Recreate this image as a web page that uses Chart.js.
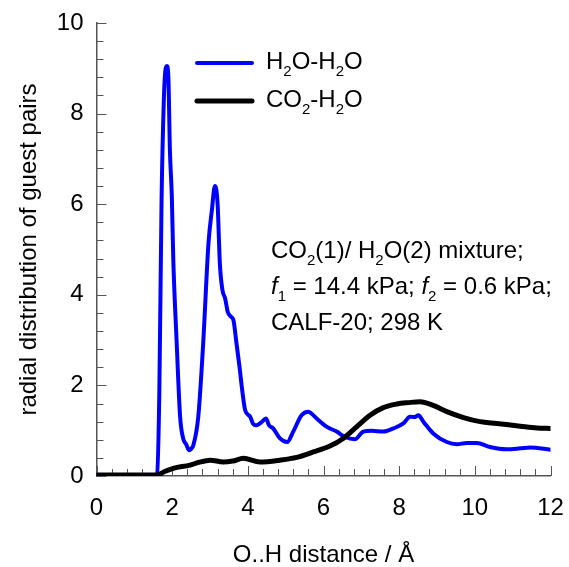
<!DOCTYPE html>
<html>
<head>
<meta charset="utf-8">
<script src="https://cdn.jsdelivr.net/npm/chart.js@4.4.0/dist/chart.umd.min.js"></script>
<style>
  html, body { margin: 0; padding: 0; background: #fff; }
  #wrap { width: 569px; height: 567px; }
</style>
</head>
<body>
<div id="wrap"><canvas id="c" width="569" height="567"></canvas></div>
<script>
const FONT = "'Liberation Sans', Arial, Helvetica, sans-serif";

// Radial distribution functions (O..H distance in Å)
const h2oX = [0, 1.5, 1.6, 1.66, 1.72, 1.78, 1.82, 1.86, 1.9, 1.94, 1.99, 2.03, 2.12, 2.21, 2.29, 2.37, 2.45, 2.5, 2.56, 2.69,
  2.82, 2.96, 3.05, 3.13, 3.2, 3.26, 3.33, 3.4, 3.47, 3.55, 3.62, 3.7, 3.79, 3.84, 3.93, 4.06, 4.14, 4.22, 4.35, 4.48,
  4.56, 4.67, 4.85, 5.04, 5.2, 5.42, 5.6, 5.68, 5.82, 6.08, 6.35, 6.57, 6.83, 7.05, 7.27, 7.58, 7.85, 8.11, 8.29, 8.4,
  8.51, 8.64, 8.9, 9.26, 9.52, 9.79, 10.05, 10.4, 10.84, 11.2, 11.46, 12];
const h2oY = [0, 0, 0.05, 1.8, 6.1, 8.3, 8.95, 9.05, 8.8, 7.2, 6.2, 4.77, 2.93, 1.31, 0.83, 0.7, 0.57, 0.6, 0.68, 1.31,
  2.93, 5.14, 5.87, 6.4, 6.02, 4.7, 4.1, 3.92, 3.62, 3.52, 3.44, 2.93, 2.34, 1.97, 1.45, 1.31, 1.15, 1.12, 1.18, 1.27,
  1.12, 1.05, 0.83, 0.75, 0.98, 1.34, 1.42, 1.38, 1.27, 1.09, 0.98, 0.86, 0.81, 0.98, 1.0, 0.98, 1.05, 1.16, 1.31, 1.3,
  1.34, 1.2, 0.94, 0.75, 0.7, 0.73, 0.73, 0.64, 0.59, 0.61, 0.63, 0.58];

const co2X = [0, 1.59, 1.8, 2.03, 2.47, 2.7, 3.0, 3.35, 3.6, 3.88, 4.32, 4.85, 5.29, 5.73, 6.17, 6.52, 6.88, 7.23, 7.58, 7.94,
  8.24, 8.55, 8.9, 9.26, 9.7, 10.14, 10.58, 11.2, 11.64, 12];
const co2Y = [0.02, 0.02, 0.1, 0.17, 0.24, 0.3, 0.35, 0.31, 0.33, 0.39, 0.31, 0.35, 0.41, 0.53, 0.66, 0.83, 1.09, 1.34, 1.51, 1.59,
  1.62, 1.64, 1.56, 1.42, 1.29, 1.2, 1.16, 1.1, 1.06, 1.05];

const xMajorTicks = [0, 2, 4, 6, 8, 10, 12];
const yMajorTicks = [0, 2, 4, 6, 8, 10];

const toPoints = (xs, ys) => xs.map((x, i) => ({ x: x, y: ys[i] }));
const isMajor = (v, list) => list.some(m => Math.abs(m - v) < 1e-6);

// Rich text: segments of plain, subscript and italic text
function drawRich(ctx, x, y, segs, size) {
  let cx = x;
  ctx.textBaseline = 'alphabetic';
  ctx.textAlign = 'left';
  ctx.fillStyle = '#000';
  for (const s of segs) {
    const fs = s.sub ? Math.round(size * 0.64) : size;
    ctx.font = (s.it ? 'italic ' : '') + fs + 'px ' + FONT;
    ctx.fillText(s.t, cx, s.sub ? y + 7 : y);
    cx += ctx.measureText(s.t).width;
  }
}

const legendItems = [
  { color: '#0000ff', width: 4, y: 63, segs: [{ t: 'H' }, { t: '2', sub: true }, { t: 'O-H' }, { t: '2', sub: true }, { t: 'O' }] },
  { color: '#000000', width: 5, y: 101, segs: [{ t: 'CO' }, { t: '2', sub: true }, { t: '-H' }, { t: '2', sub: true }, { t: 'O' }] }
];

const noteLines = [
  [{ t: 'CO' }, { t: '2', sub: true }, { t: '(1)/ H' }, { t: '2', sub: true }, { t: 'O(2) mixture;' }],
  [{ t: 'f', it: true }, { t: '1', sub: true }, { t: ' = 14.4 kPa; ' }, { t: 'f', it: true }, { t: '2', sub: true }, { t: ' = 0.6 kPa;' }],
  [{ t: 'CALF-20; 298 K' }]
];

const decorPlugin = {
  id: 'decor',
  beforeDatasetsDraw(chart) {
    const ctx = chart.ctx;
    const { x, y } = chart.scales;
    ctx.save();
    ctx.strokeStyle = '#555';
    ctx.lineWidth = 1;
    x.ticks.forEach(t => {
      const px = Math.round(x.getPixelForValue(t.value)) + 0.5;
      const len = isMajor(t.value, xMajorTicks) ? 10 : 7;
      ctx.beginPath();
      ctx.moveTo(px, y.bottom);
      ctx.lineTo(px, y.bottom - len);
      ctx.stroke();
    });
    y.ticks.forEach(t => {
      const py = Math.round(y.getPixelForValue(t.value)) + 0.5;
      const len = isMajor(t.value, yMajorTicks) ? 10 : 7;
      ctx.beginPath();
      ctx.moveTo(x.left, py);
      ctx.lineTo(x.left + len, py);
      ctx.stroke();
    });
    ctx.restore();
  },
  afterDraw(chart) {
    const ctx = chart.ctx;
    ctx.save();
    legendItems.forEach(it => {
      ctx.strokeStyle = it.color;
      ctx.lineWidth = it.width;
      ctx.lineCap = 'round';
      ctx.beginPath();
      ctx.moveTo(197, it.y);
      ctx.lineTo(252, it.y);
      ctx.stroke();
      drawRich(ctx, 266, it.y + 6, it.segs, 24);
    });
    const baselines = [258, 294, 330];
    noteLines.forEach((segs, i) => drawRich(ctx, 271, baselines[i], segs, 24));
    ctx.restore();
  }
};

new Chart(document.getElementById('c'), {
  type: 'line',
  data: {
    datasets: [
      {
        label: 'H2O-H2O',
        data: toPoints(h2oX, h2oY),
        borderColor: '#0000ff',
        borderWidth: 4,
        pointRadius: 0,
        cubicInterpolationMode: 'monotone',
        borderCapStyle: 'round',
        borderJoinStyle: 'round',
        fill: false,
        order: 1
      },
      {
        label: 'CO2-H2O',
        data: toPoints(co2X, co2Y),
        borderColor: '#000000',
        borderWidth: 5,
        pointRadius: 0,
        cubicInterpolationMode: 'monotone',
        borderCapStyle: 'round',
        borderJoinStyle: 'round',
        fill: false,
        order: 0
      }
    ]
  },
  options: {
    responsive: false,
    animation: false,
    devicePixelRatio: 1,
    layout: { padding: { left: 0, top: 23, right: 18.5, bottom: 0 } },
    plugins: { legend: { display: false }, tooltip: { enabled: false } },
    scales: {
      x: {
        type: 'linear',
        min: 0,
        max: 12,
        afterFit: s => { s.height = 91; s.paddingLeft = 0; s.paddingRight = 0; },
        ticks: {
          stepSize: 0.4,
          autoSkip: false,
          maxRotation: 0,
          padding: 18,
          color: '#000',
          font: { family: FONT, size: 24 },
          callback: v => isMajor(v, xMajorTicks) ? String(Math.round(v)) : ''
        },
        grid: { display: false, drawTicks: false },
        border: { display: true, color: '#555', width: 1.5 },
        title: {
          display: true,
          text: 'O..H distance / Å',
          color: '#000',
          font: { family: FONT, size: 24 },
          padding: { top: 0, bottom: -3 }
        }
      },
      y: {
        type: 'linear',
        min: 0,
        max: 10,
        afterFit: s => { s.width = 96.5; s.paddingTop = 0; s.paddingBottom = 0; },
        ticks: {
          stepSize: 0.4,
          autoSkip: false,
          padding: 13,
          color: '#000',
          font: { family: FONT, size: 24 },
          callback: v => isMajor(v, yMajorTicks) ? String(Math.round(v)) : ''
        },
        grid: { display: false, drawTicks: false },
        border: { display: true, color: '#555', width: 1.5 },
        title: {
          display: true,
          text: 'radial distribution of guest pairs',
          color: '#000',
          font: { family: FONT, size: 24 },
          padding: { top: 15, bottom: 0 }
        }
      }
    }
  },
  plugins: [decorPlugin]
});
</script>
</body>
</html>
